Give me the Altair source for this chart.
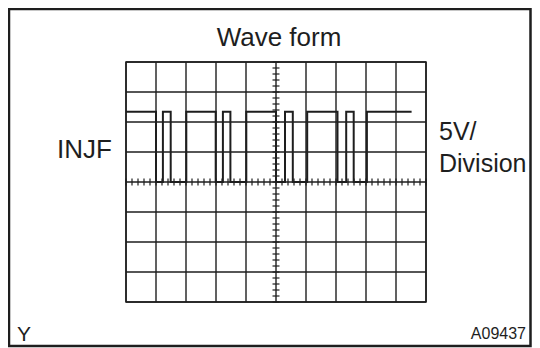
import altair as alt
import pandas as pd

# Oscilloscope screen: 10 horizontal divisions, 8 vertical divisions at 5 V/div
grid_x = list(range(0, 11))
grid_y = list(range(-20, 21, 5))
minor_x = [round(i * 0.2, 1) for i in range(0, 51)]
minor_y = list(range(-20, 21))

# INJF waveform (step-after vertices): time in divisions, level in volts
wave_t = [0.0, 1.0, 1.23, 1.49, 2.01, 2.99, 3.23, 3.48, 4.01, 5.0,
          5.3, 5.56, 6.04, 7.05, 7.34, 7.59, 8.03, 9.52]
wave_v = [11.7, 0, 11.7, 0, 11.7, 0, 11.7, 0, 11.7, 0,
          11.7, 0, 11.7, 0, 11.7, 0, 11.7, 11.7]

INK = "#1e1e1e"
FONT = "Liberation Sans"

xs = alt.Scale(domain=[0, 10], nice=False, zero=False)
ys = alt.Scale(domain=[-20, 20], nice=False, zero=False)

gx = alt.Chart(pd.DataFrame({"t": grid_x})).mark_rule(color=INK, strokeWidth=1.4).encode(
    x=alt.X("t:Q", scale=xs, axis=None)
)
gy = alt.Chart(pd.DataFrame({"v": grid_y})).mark_rule(color=INK, strokeWidth=1.4).encode(
    y=alt.Y("v:Q", scale=ys, axis=None)
)

wave_df = pd.DataFrame({"t": wave_t, "v": wave_v})
wave = alt.Chart(wave_df).mark_line(interpolate="step-after", color=INK, strokeWidth=2).encode(
    x=alt.X("t:Q", scale=xs, axis=None),
    y=alt.Y("v:Q", scale=ys, axis=None),
)

hx_df = pd.DataFrame({"t": minor_x, "v": [0] * len(minor_x)})
hticks = alt.Chart(hx_df).mark_tick(orient="vertical", size=7, thickness=1.2, color=INK, opacity=1).encode(
    x=alt.X("t:Q", scale=xs, axis=None), y=alt.Y("v:Q", scale=ys, axis=None)
)
vy_df = pd.DataFrame({"t": [5] * len(minor_y), "v": minor_y})
vticks = alt.Chart(vy_df).mark_tick(orient="horizontal", size=7, thickness=1.2, color=INK, opacity=1).encode(
    x=alt.X("t:Q", scale=xs, axis=None), y=alt.Y("v:Q", scale=ys, axis=None)
)

one = pd.DataFrame({"a": [0]})

def label(txt, x, y, size, align="left"):
    return alt.Chart(one).mark_text(font=FONT, fontSize=size, color=INK, align=align,
                                    baseline="alphabetic").encode(
        x=alt.value(x), y=alt.value(y), text=alt.value(txt))

border = alt.Chart(one).mark_rect(filled=False, stroke=INK, strokeWidth=2.5).encode(
    x=alt.value(-117), x2=alt.value(404.5), y=alt.value(-53), y2=alt.value(284)
)

chart = alt.layer(
    gx, gy, wave, hticks, vticks,
    label("Wave form", 153, -16, 26, "center"),
    label("INJF", -14, 96, 26, "right"),
    label("5V/", 313, 78, 25),
    label("Division", 313, 110, 25),
    label("Y", -109, 279, 21),
    label("A09437", 400, 277, 16, "right"),
    border,
).properties(
    width=300, height=240,
    autosize=alt.AutoSizeParams(type="none"),
    padding={"left": 118, "top": 54, "right": 106, "bottom": 46},
    background="white",
).configure_view(stroke=INK, strokeWidth=1.5)

chart.save("out.html", embed_options={"renderer": "svg", "actions": False})
